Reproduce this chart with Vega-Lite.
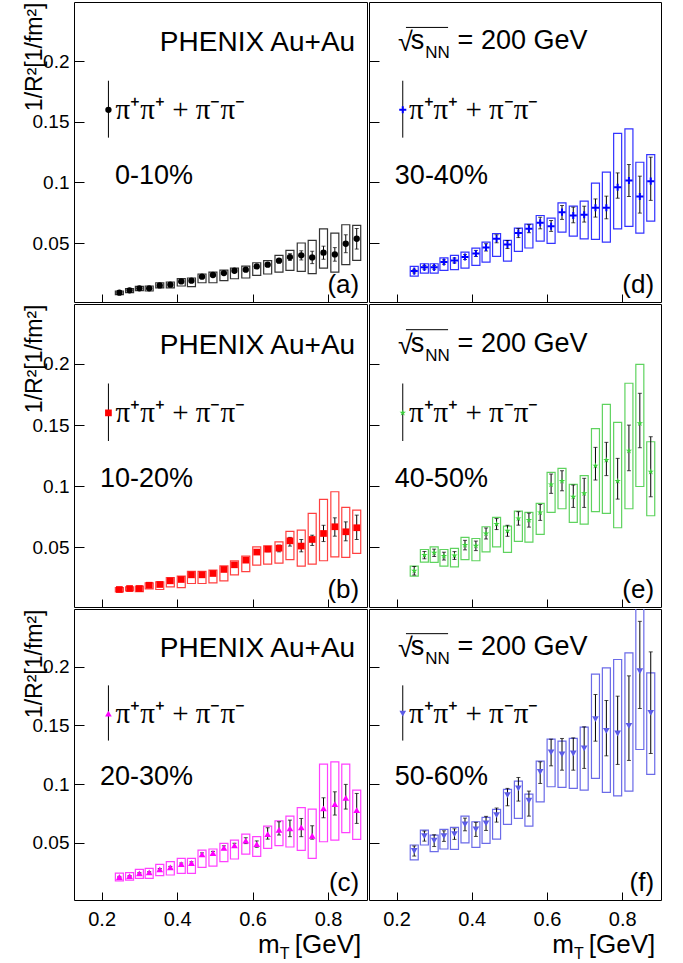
{
"$schema": "https://vega.github.io/schema/vega-lite/v6.json",
"background": "white",
"padding": {"left": 22, "top": 1, "right": 0, "bottom": 0},
"config": {
  "view": {"stroke": "black", "strokeWidth": 1},
  "axis": {"grid": false, "domain": false, "tickColor": "black", "tickWidth": 1, "labelColor": "black", "labelFont": "Liberation Sans", "labelFontSize": 19, "titleFont": "Liberation Sans", "titleColor": "black", "titleFontWeight": "normal", "labelFlush": false, "labelOverlap": false},
  "text": {"font": "Liberation Sans", "color": "black"}
},
"datasets": {
"a": [
{"x":0.247,"y":0.0090,"lo":0.0085,"hi":0.0095,"blo":0.0074,"bhi":0.0104},
{"x":0.274,"y":0.0109,"lo":0.0104,"hi":0.0114,"blo":0.0091,"bhi":0.0123},
{"x":0.300,"y":0.0126,"lo":0.0120,"hi":0.0132,"blo":0.0107,"bhi":0.0142},
{"x":0.326,"y":0.0126,"lo":0.0120,"hi":0.0132,"blo":0.0104,"bhi":0.0145},
{"x":0.354,"y":0.0150,"lo":0.0144,"hi":0.0156,"blo":0.0129,"bhi":0.0172},
{"x":0.382,"y":0.0156,"lo":0.0150,"hi":0.0162,"blo":0.0129,"bhi":0.0178},
{"x":0.411,"y":0.0183,"lo":0.0176,"hi":0.0190,"blo":0.0145,"bhi":0.0206},
{"x":0.438,"y":0.0189,"lo":0.0182,"hi":0.0196,"blo":0.0140,"bhi":0.0211},
{"x":0.466,"y":0.0222,"lo":0.0214,"hi":0.0230,"blo":0.0172,"bhi":0.0244},
{"x":0.495,"y":0.0236,"lo":0.0227,"hi":0.0245,"blo":0.0172,"bhi":0.0260},
{"x":0.524,"y":0.0252,"lo":0.0242,"hi":0.0262,"blo":0.0189,"bhi":0.0277},
{"x":0.552,"y":0.0271,"lo":0.0260,"hi":0.0282,"blo":0.0205,"bhi":0.0293},
{"x":0.582,"y":0.0280,"lo":0.0267,"hi":0.0293,"blo":0.0211,"bhi":0.0310},
{"x":0.611,"y":0.0307,"lo":0.0292,"hi":0.0322,"blo":0.0233,"bhi":0.0337},
{"x":0.640,"y":0.0321,"lo":0.0305,"hi":0.0337,"blo":0.0244,"bhi":0.0354},
{"x":0.670,"y":0.0354,"lo":0.0336,"hi":0.0372,"blo":0.0260,"bhi":0.0398},
{"x":0.699,"y":0.0384,"lo":0.0356,"hi":0.0412,"blo":0.0274,"bhi":0.0439},
{"x":0.729,"y":0.0398,"lo":0.0360,"hi":0.0436,"blo":0.0266,"bhi":0.0500},
{"x":0.758,"y":0.0381,"lo":0.0330,"hi":0.0432,"blo":0.0247,"bhi":0.0522},
{"x":0.788,"y":0.0420,"lo":0.0366,"hi":0.0474,"blo":0.0293,"bhi":0.0617},
{"x":0.818,"y":0.0406,"lo":0.0350,"hi":0.0462,"blo":0.0260,"bhi":0.0582},
{"x":0.847,"y":0.0494,"lo":0.0420,"hi":0.0568,"blo":0.0321,"bhi":0.0651},
{"x":0.876,"y":0.0535,"lo":0.0450,"hi":0.0620,"blo":0.0356,"bhi":0.0645}
],
"b": [
{"x":0.247,"y":0.0156,"lo":0.0152,"hi":0.0160,"blo":0.0136,"bhi":0.0172},
{"x":0.274,"y":0.0164,"lo":0.0160,"hi":0.0168,"blo":0.0145,"bhi":0.0177},
{"x":0.300,"y":0.0164,"lo":0.0160,"hi":0.0168,"blo":0.0139,"bhi":0.0183},
{"x":0.326,"y":0.0191,"lo":0.0186,"hi":0.0196,"blo":0.0161,"bhi":0.0211},
{"x":0.354,"y":0.0197,"lo":0.0192,"hi":0.0202,"blo":0.0156,"bhi":0.0219},
{"x":0.382,"y":0.0227,"lo":0.0221,"hi":0.0233,"blo":0.0177,"bhi":0.0254},
{"x":0.411,"y":0.0238,"lo":0.0232,"hi":0.0244,"blo":0.0172,"bhi":0.0265},
{"x":0.438,"y":0.0276,"lo":0.0269,"hi":0.0283,"blo":0.0205,"bhi":0.0305},
{"x":0.466,"y":0.0276,"lo":0.0268,"hi":0.0284,"blo":0.0205,"bhi":0.0305},
{"x":0.495,"y":0.0287,"lo":0.0279,"hi":0.0295,"blo":0.0211,"bhi":0.0314},
{"x":0.524,"y":0.0320,"lo":0.0310,"hi":0.0330,"blo":0.0227,"bhi":0.0350},
{"x":0.552,"y":0.0358,"lo":0.0347,"hi":0.0369,"blo":0.0275,"bhi":0.0391},
{"x":0.582,"y":0.0396,"lo":0.0383,"hi":0.0409,"blo":0.0303,"bhi":0.0429},
{"x":0.611,"y":0.0462,"lo":0.0445,"hi":0.0479,"blo":0.0355,"bhi":0.0505},
{"x":0.640,"y":0.0486,"lo":0.0465,"hi":0.0507,"blo":0.0363,"bhi":0.0513},
{"x":0.670,"y":0.0494,"lo":0.0464,"hi":0.0519,"blo":0.0371,"bhi":0.0546},
{"x":0.699,"y":0.0554,"lo":0.0511,"hi":0.0582,"blo":0.0401,"bhi":0.0631},
{"x":0.729,"y":0.0511,"lo":0.0464,"hi":0.0565,"blo":0.0347,"bhi":0.0642},
{"x":0.758,"y":0.0565,"lo":0.0516,"hi":0.0600,"blo":0.0363,"bhi":0.0778},
{"x":0.788,"y":0.0614,"lo":0.0548,"hi":0.0681,"blo":0.0391,"bhi":0.0893},
{"x":0.818,"y":0.0669,"lo":0.0592,"hi":0.0742,"blo":0.0423,"bhi":0.0955},
{"x":0.847,"y":0.0628,"lo":0.0554,"hi":0.0709,"blo":0.0418,"bhi":0.0827},
{"x":0.876,"y":0.0661,"lo":0.0565,"hi":0.0764,"blo":0.0451,"bhi":0.0805}
],
"c": [
{"x":0.247,"y":0.0209,"lo":0.0204,"hi":0.0214,"blo":0.0175,"bhi":0.0241},
{"x":0.274,"y":0.0217,"lo":0.0212,"hi":0.0222,"blo":0.0183,"bhi":0.0246},
{"x":0.300,"y":0.0240,"lo":0.0234,"hi":0.0246,"blo":0.0197,"bhi":0.0274},
{"x":0.326,"y":0.0248,"lo":0.0242,"hi":0.0254,"blo":0.0197,"bhi":0.0282},
{"x":0.354,"y":0.0274,"lo":0.0267,"hi":0.0281,"blo":0.0220,"bhi":0.0316},
{"x":0.382,"y":0.0291,"lo":0.0283,"hi":0.0299,"blo":0.0226,"bhi":0.0339},
{"x":0.411,"y":0.0319,"lo":0.0310,"hi":0.0328,"blo":0.0240,"bhi":0.0367},
{"x":0.438,"y":0.0328,"lo":0.0318,"hi":0.0338,"blo":0.0240,"bhi":0.0367},
{"x":0.466,"y":0.0401,"lo":0.0388,"hi":0.0414,"blo":0.0291,"bhi":0.0438},
{"x":0.495,"y":0.0413,"lo":0.0399,"hi":0.0427,"blo":0.0302,"bhi":0.0447},
{"x":0.524,"y":0.0458,"lo":0.0442,"hi":0.0474,"blo":0.0339,"bhi":0.0495},
{"x":0.552,"y":0.0478,"lo":0.0460,"hi":0.0496,"blo":0.0362,"bhi":0.0523},
{"x":0.582,"y":0.0518,"lo":0.0493,"hi":0.0543,"blo":0.0404,"bhi":0.0574},
{"x":0.611,"y":0.0489,"lo":0.0462,"hi":0.0516,"blo":0.0384,"bhi":0.0552},
{"x":0.640,"y":0.0574,"lo":0.0531,"hi":0.0628,"blo":0.0452,"bhi":0.0642},
{"x":0.670,"y":0.0611,"lo":0.0566,"hi":0.0679,"blo":0.0475,"bhi":0.0687},
{"x":0.699,"y":0.0622,"lo":0.0552,"hi":0.0693,"blo":0.0464,"bhi":0.0727},
{"x":0.729,"y":0.0631,"lo":0.0552,"hi":0.0707,"blo":0.0435,"bhi":0.0800},
{"x":0.758,"y":0.0560,"lo":0.0531,"hi":0.0645,"blo":0.0367,"bhi":0.0787},
{"x":0.788,"y":0.0793,"lo":0.0713,"hi":0.0883,"blo":0.0509,"bhi":0.1169},
{"x":0.818,"y":0.0829,"lo":0.0736,"hi":0.0934,"blo":0.0523,"bhi":0.1189},
{"x":0.847,"y":0.0883,"lo":0.0787,"hi":0.0997,"blo":0.0586,"bhi":0.1169},
{"x":0.876,"y":0.0778,"lo":0.0665,"hi":0.0920,"blo":0.0529,"bhi":0.0948}
],
"d": [
{"x":0.247,"y":0.0268,"lo":0.0253,"hi":0.0283,"blo":0.0227,"bhi":0.0307},
{"x":0.274,"y":0.0299,"lo":0.0284,"hi":0.0314,"blo":0.0252,"bhi":0.0329},
{"x":0.300,"y":0.0299,"lo":0.0284,"hi":0.0314,"blo":0.0252,"bhi":0.0329},
{"x":0.326,"y":0.0343,"lo":0.0325,"hi":0.0361,"blo":0.0274,"bhi":0.0378},
{"x":0.354,"y":0.0356,"lo":0.0336,"hi":0.0376,"blo":0.0280,"bhi":0.0398},
{"x":0.382,"y":0.0384,"lo":0.0364,"hi":0.0404,"blo":0.0293,"bhi":0.0425},
{"x":0.411,"y":0.0414,"lo":0.0389,"hi":0.0439,"blo":0.0315,"bhi":0.0458},
{"x":0.438,"y":0.0464,"lo":0.0434,"hi":0.0494,"blo":0.0343,"bhi":0.0508},
{"x":0.466,"y":0.0535,"lo":0.0502,"hi":0.0568,"blo":0.0389,"bhi":0.0577},
{"x":0.495,"y":0.0488,"lo":0.0455,"hi":0.0521,"blo":0.0351,"bhi":0.0521},
{"x":0.524,"y":0.0582,"lo":0.0545,"hi":0.0619,"blo":0.0431,"bhi":0.0623},
{"x":0.552,"y":0.0617,"lo":0.0585,"hi":0.0651,"blo":0.0459,"bhi":0.0656},
{"x":0.582,"y":0.0667,"lo":0.0617,"hi":0.0713,"blo":0.0516,"bhi":0.0727},
{"x":0.611,"y":0.0639,"lo":0.0596,"hi":0.0686,"blo":0.0497,"bhi":0.0705},
{"x":0.640,"y":0.0755,"lo":0.0695,"hi":0.0810,"blo":0.0590,"bhi":0.0832},
{"x":0.670,"y":0.0727,"lo":0.0667,"hi":0.0796,"blo":0.0557,"bhi":0.0804},
{"x":0.699,"y":0.0733,"lo":0.0673,"hi":0.0804,"blo":0.0535,"bhi":0.0846},
{"x":0.729,"y":0.0791,"lo":0.0714,"hi":0.0864,"blo":0.0530,"bhi":0.0994},
{"x":0.758,"y":0.0791,"lo":0.0700,"hi":0.0887,"blo":0.0508,"bhi":0.1085},
{"x":0.788,"y":0.0961,"lo":0.0870,"hi":0.1079,"blo":0.0617,"bhi":0.1406},
{"x":0.818,"y":0.1016,"lo":0.0884,"hi":0.1148,"blo":0.0637,"bhi":0.1442},
{"x":0.847,"y":0.0884,"lo":0.0747,"hi":0.1052,"blo":0.0582,"bhi":0.1167},
{"x":0.876,"y":0.1011,"lo":0.0852,"hi":0.1209,"blo":0.0681,"bhi":0.1230}
],
"e": [
{"x":0.247,"y":0.0309,"lo":0.0274,"hi":0.0344,"blo":0.0265,"bhi":0.0347},
{"x":0.274,"y":0.0437,"lo":0.0407,"hi":0.0467,"blo":0.0380,"bhi":0.0483},
{"x":0.300,"y":0.0456,"lo":0.0426,"hi":0.0486,"blo":0.0377,"bhi":0.0505},
{"x":0.326,"y":0.0429,"lo":0.0397,"hi":0.0461,"blo":0.0347,"bhi":0.0483},
{"x":0.354,"y":0.0434,"lo":0.0402,"hi":0.0466,"blo":0.0341,"bhi":0.0492},
{"x":0.382,"y":0.0519,"lo":0.0480,"hi":0.0558,"blo":0.0401,"bhi":0.0582},
{"x":0.411,"y":0.0513,"lo":0.0474,"hi":0.0552,"blo":0.0391,"bhi":0.0573},
{"x":0.438,"y":0.0614,"lo":0.0569,"hi":0.0659,"blo":0.0464,"bhi":0.0669},
{"x":0.466,"y":0.0691,"lo":0.0646,"hi":0.0736,"blo":0.0505,"bhi":0.0745},
{"x":0.495,"y":0.0636,"lo":0.0591,"hi":0.0681,"blo":0.0459,"bhi":0.0674},
{"x":0.524,"y":0.0737,"lo":0.0682,"hi":0.0792,"blo":0.0549,"bhi":0.0797},
{"x":0.552,"y":0.0723,"lo":0.0666,"hi":0.0780,"blo":0.0543,"bhi":0.0786},
{"x":0.582,"y":0.0786,"lo":0.0721,"hi":0.0851,"blo":0.0606,"bhi":0.0860},
{"x":0.611,"y":0.1015,"lo":0.0942,"hi":0.1100,"blo":0.0786,"bhi":0.1113},
{"x":0.640,"y":0.1043,"lo":0.0963,"hi":0.1127,"blo":0.0816,"bhi":0.1146},
{"x":0.670,"y":0.0914,"lo":0.0827,"hi":0.1010,"blo":0.0704,"bhi":0.1015},
{"x":0.699,"y":0.0942,"lo":0.0827,"hi":0.1065,"blo":0.0691,"bhi":0.1087},
{"x":0.729,"y":0.1168,"lo":0.1051,"hi":0.1318,"blo":0.0792,"bhi":0.1471},
{"x":0.758,"y":0.1214,"lo":0.1087,"hi":0.1359,"blo":0.0778,"bhi":0.1670},
{"x":0.788,"y":0.1043,"lo":0.0895,"hi":0.1228,"blo":0.0661,"bhi":0.1523},
{"x":0.818,"y":0.1291,"lo":0.1127,"hi":0.1500,"blo":0.0816,"bhi":0.1842},
{"x":0.847,"y":0.1514,"lo":0.1315,"hi":0.1760,"blo":0.0998,"bhi":0.1997},
{"x":0.876,"y":0.1119,"lo":0.0914,"hi":0.1405,"blo":0.0759,"bhi":0.1364}
],
"f": [
{"x":0.247,"y":0.0430,"lo":0.0387,"hi":0.0473,"blo":0.0354,"bhi":0.0481},
{"x":0.274,"y":0.0557,"lo":0.0514,"hi":0.0600,"blo":0.0481,"bhi":0.0608},
{"x":0.300,"y":0.0518,"lo":0.0468,"hi":0.0568,"blo":0.0424,"bhi":0.0566},
{"x":0.326,"y":0.0557,"lo":0.0512,"hi":0.0602,"blo":0.0447,"bhi":0.0614},
{"x":0.354,"y":0.0574,"lo":0.0529,"hi":0.0619,"blo":0.0444,"bhi":0.0631},
{"x":0.382,"y":0.0656,"lo":0.0602,"hi":0.0710,"blo":0.0500,"bhi":0.0727},
{"x":0.411,"y":0.0614,"lo":0.0554,"hi":0.0674,"blo":0.0461,"bhi":0.0679},
{"x":0.438,"y":0.0665,"lo":0.0605,"hi":0.0725,"blo":0.0495,"bhi":0.0716},
{"x":0.466,"y":0.0736,"lo":0.0676,"hi":0.0796,"blo":0.0532,"bhi":0.0784},
{"x":0.495,"y":0.0906,"lo":0.0815,"hi":0.0963,"blo":0.0656,"bhi":0.0954},
{"x":0.524,"y":0.0963,"lo":0.0855,"hi":0.1056,"blo":0.0707,"bhi":0.1025},
{"x":0.552,"y":0.0858,"lo":0.0727,"hi":0.0940,"blo":0.0642,"bhi":0.0914},
{"x":0.582,"y":0.1104,"lo":0.1005,"hi":0.1189,"blo":0.0849,"bhi":0.1195},
{"x":0.611,"y":0.1269,"lo":0.1155,"hi":0.1382,"blo":0.0977,"bhi":0.1382},
{"x":0.640,"y":0.1252,"lo":0.1118,"hi":0.1388,"blo":0.0971,"bhi":0.1365},
{"x":0.670,"y":0.1260,"lo":0.1118,"hi":0.1393,"blo":0.0963,"bhi":0.1388},
{"x":0.699,"y":0.1303,"lo":0.1133,"hi":0.1487,"blo":0.0948,"bhi":0.1484},
{"x":0.729,"y":0.1552,"lo":0.1365,"hi":0.1762,"blo":0.1048,"bhi":0.1935},
{"x":0.758,"y":0.1453,"lo":0.1240,"hi":0.1711,"blo":0.0929,"bhi":0.1989},
{"x":0.788,"y":0.1430,"lo":0.1167,"hi":0.1748,"blo":0.0900,"bhi":0.2060},
{"x":0.818,"y":0.1495,"lo":0.1201,"hi":0.1921,"blo":0.0940,"bhi":0.2116},
{"x":0.847,"y":0.1960,"lo":0.1643,"hi":0.2385,"blo":0.1294,"bhi":0.2600},
{"x":0.876,"y":0.1606,"lo":0.1260,"hi":0.2125,"blo":0.1082,"bhi":0.1946}
]
},
"spacing": 0,
"vconcat": [
{"hconcat": [
 {"width": 293, "height": 300, "layer": [
  {"data": {"name": "a"}, "mark": {"type": "bar", "filled": false, "width": 8, "color": "#333333", "strokeWidth": 1.2, "clip": true},
   "encoding": {"x": {"field": "x", "type": "quantitative", "scale": {"domain": [0.14, 0.89], "nice": false, "zero": false}, "axis": {"values": [0.2, 0.4, 0.6, 0.8], "labels": false, "tickSize": -8, "title": null}},
     "y": {"field": "blo", "type": "quantitative", "scale": {"domain": [0.0013, 0.249], "nice": false, "zero": false}, "axis": {"values": [0.05, 0.1, 0.15, 0.2], "format": "~g", "tickSize": -10, "labelPadding": 15, "title": "1/R²[1/fm²]", "titleAnchor": "end", "titleFontSize": 23, "titlePadding": -14}},
     "y2": {"field": "bhi"}}},
  {"data": {"name": "a"}, "mark": {"type": "errorbar", "color": "black", "thickness": 1, "ticks": {"size": 4}},
   "encoding": {"x": {"field": "x", "type": "quantitative", "title": null}, "y": {"field": "lo", "type": "quantitative", "title": "1/R²[1/fm²]"}, "y2": {"field": "hi"}}},
  {"data": {"name": "a"}, "mark": {"type": "point", "shape": "circle", "filled": true, "size": 40, "color": "black", "opacity": 1, "clip": true},
   "encoding": {"x": {"field": "x", "type": "quantitative"}, "y": {"field": "y", "type": "quantitative"}}},
  {"data": {"values": [{}]}, "mark": {"type": "text", "text": "PHENIX Au+Au", "align": "right", "baseline": "alphabetic", "fontSize": 28},
   "encoding": {"x": {"datum": 0.872}, "y": {"datum": 0.2085}}},
  {"data": {"values": [{}]}, "mark": {"type": "rule", "color": "black", "strokeWidth": 1},
   "encoding": {"x": {"datum": 0.218}, "y": {"datum": 0.137}, "y2": {"datum": 0.184}}},
  {"data": {"values": [{}]}, "mark": {"type": "point", "shape": "circle", "filled": true, "size": 40, "color": "black", "opacity": 1},
   "encoding": {"x": {"datum": 0.218}, "y": {"datum": 0.16}}},
  {"data": {"values": [{}]}, "mark": {"type": "text", "text": "π⁺π⁺ + π⁻π⁻", "align": "left", "baseline": "middle", "fontSize": 29, "font": "Liberation Serif"},
   "encoding": {"x": {"datum": 0.237}, "y": {"datum": 0.16}}},
  {"data": {"values": [{}]}, "mark": {"type": "text", "text": "0-10%", "align": "right", "baseline": "alphabetic", "fontSize": 27},
   "encoding": {"x": {"datum": 0.442}, "y": {"datum": 0.099}}},
  {"data": {"values": [{}]}, "mark": {"type": "text", "text": "(a)", "align": "right", "baseline": "alphabetic", "fontSize": 26},
   "encoding": {"x": {"datum": 0.8826}, "y": {"datum": 0.009}}}
 ]},
 {"width": 292, "height": 300, "layer": [
  {"data": {"name": "d"}, "mark": {"type": "bar", "filled": false, "width": 8, "color": "#3333ff", "strokeWidth": 1.2, "clip": true},
   "encoding": {"x": {"field": "x", "type": "quantitative", "scale": {"domain": [0.14, 0.89], "nice": false, "zero": false}, "axis": {"values": [0.2, 0.4, 0.6, 0.8], "labels": false, "tickSize": -8, "title": null}},
     "y": {"field": "blo", "type": "quantitative", "scale": {"domain": [0.0013, 0.249], "nice": false, "zero": false}, "axis": {"values": [0.05, 0.1, 0.15, 0.2], "labels": false, "tickSize": -10, "title": null}},
     "y2": {"field": "bhi"}}},
  {"data": {"name": "d"}, "mark": {"type": "errorbar", "color": "black", "thickness": 1, "ticks": {"size": 4}},
   "encoding": {"x": {"field": "x", "type": "quantitative", "title": null}, "y": {"field": "lo", "type": "quantitative", "title": null}, "y2": {"field": "hi"}}},
  {"data": {"name": "d"}, "mark": {"type": "point", "shape": "M-1,0H1M0,-1V1", "filled": false, "size": 50, "strokeWidth": 2, "color": "#0000ff", "opacity": 1, "clip": true},
   "encoding": {"x": {"field": "x", "type": "quantitative"}, "y": {"field": "y", "type": "quantitative"}}},
  {"data": {"values": [{}]}, "mark": {"type": "text", "text": "√", "align": "left", "baseline": "alphabetic", "fontSize": 27},
   "encoding": {"x": {"datum": 0.2036}, "y": {"datum": 0.2085}}},
  {"data": {"values": [{}]}, "mark": {"type": "rule", "color": "black", "strokeWidth": 1},
   "encoding": {"x": {"datum": 0.225}, "x2": {"datum": 0.337}, "y": {"datum": 0.228}}},
  {"data": {"values": [{}]}, "mark": {"type": "text", "text": "s", "align": "left", "baseline": "alphabetic", "fontSize": 27},
   "encoding": {"x": {"datum": 0.2376}, "y": {"datum": 0.2101}}},
  {"data": {"values": [{}]}, "mark": {"type": "text", "text": "NN", "align": "left", "baseline": "alphabetic", "fontSize": 17},
   "encoding": {"x": {"datum": 0.2763}, "y": {"datum": 0.2025}}},
  {"data": {"values": [{}]}, "mark": {"type": "text", "text": "= 200 GeV", "align": "left", "baseline": "alphabetic", "fontSize": 27},
   "encoding": {"x": {"datum": 0.3624}, "y": {"datum": 0.2101}}},
  {"data": {"values": [{}]}, "mark": {"type": "rule", "color": "black", "strokeWidth": 1},
   "encoding": {"x": {"datum": 0.2165}, "y": {"datum": 0.137}, "y2": {"datum": 0.184}}},
  {"data": {"values": [{}]}, "mark": {"type": "point", "shape": "M-1,0H1M0,-1V1", "filled": false, "size": 50, "strokeWidth": 2, "color": "#0000ff", "opacity": 1},
   "encoding": {"x": {"datum": 0.2165}, "y": {"datum": 0.16}}},
  {"data": {"values": [{}]}, "mark": {"type": "text", "text": "π⁺π⁺ + π⁻π⁻", "align": "left", "baseline": "middle", "fontSize": 29, "font": "Liberation Serif"},
   "encoding": {"x": {"datum": 0.233}, "y": {"datum": 0.16}}},
  {"data": {"values": [{}]}, "mark": {"type": "text", "text": "30-40%", "align": "right", "baseline": "alphabetic", "fontSize": 27},
   "encoding": {"x": {"datum": 0.443}, "y": {"datum": 0.099}}},
  {"data": {"values": [{}]}, "mark": {"type": "text", "text": "(d)", "align": "right", "baseline": "alphabetic", "fontSize": 26},
   "encoding": {"x": {"datum": 0.885}, "y": {"datum": 0.009}}}
 ]}
], "spacing": 0},
{"hconcat": [
 {"width": 293, "height": 303, "layer": [
  {"data": {"name": "b"}, "mark": {"type": "bar", "filled": false, "width": 8, "color": "#ff4040", "strokeWidth": 1.2, "clip": true},
   "encoding": {"x": {"field": "x", "type": "quantitative", "scale": {"domain": [0.14, 0.89], "nice": false, "zero": false}, "axis": {"values": [0.2, 0.4, 0.6, 0.8], "labels": false, "tickSize": -8, "title": null}},
     "y": {"field": "blo", "type": "quantitative", "scale": {"domain": [0.0013, 0.249], "nice": false, "zero": false}, "axis": {"values": [0.05, 0.1, 0.15, 0.2], "format": "~g", "tickSize": -10, "labelPadding": 15, "title": "1/R²[1/fm²]", "titleAnchor": "end", "titleFontSize": 23, "titlePadding": -14}},
     "y2": {"field": "bhi"}}},
  {"data": {"name": "b"}, "mark": {"type": "errorbar", "color": "black", "thickness": 1, "ticks": {"size": 4}},
   "encoding": {"x": {"field": "x", "type": "quantitative", "title": null}, "y": {"field": "lo", "type": "quantitative", "title": "1/R²[1/fm²]"}, "y2": {"field": "hi"}}},
  {"data": {"name": "b"}, "mark": {"type": "point", "shape": "square", "filled": true, "size": 45, "color": "#ff0000", "opacity": 1, "clip": true},
   "encoding": {"x": {"field": "x", "type": "quantitative"}, "y": {"field": "y", "type": "quantitative"}}},
  {"data": {"values": [{}]}, "mark": {"type": "text", "text": "PHENIX Au+Au", "align": "right", "baseline": "alphabetic", "fontSize": 28},
   "encoding": {"x": {"datum": 0.872}, "y": {"datum": 0.2085}}},
  {"data": {"values": [{}]}, "mark": {"type": "rule", "color": "black", "strokeWidth": 1},
   "encoding": {"x": {"datum": 0.218}, "y": {"datum": 0.137}, "y2": {"datum": 0.184}}},
  {"data": {"values": [{}]}, "mark": {"type": "point", "shape": "square", "filled": true, "size": 45, "color": "#ff0000", "opacity": 1},
   "encoding": {"x": {"datum": 0.218}, "y": {"datum": 0.16}}},
  {"data": {"values": [{}]}, "mark": {"type": "text", "text": "π⁺π⁺ + π⁻π⁻", "align": "left", "baseline": "middle", "fontSize": 29, "font": "Liberation Serif"},
   "encoding": {"x": {"datum": 0.237}, "y": {"datum": 0.16}}},
  {"data": {"values": [{}]}, "mark": {"type": "text", "text": "10-20%", "align": "right", "baseline": "alphabetic", "fontSize": 27},
   "encoding": {"x": {"datum": 0.442}, "y": {"datum": 0.099}}},
  {"data": {"values": [{}]}, "mark": {"type": "text", "text": "(b)", "align": "right", "baseline": "alphabetic", "fontSize": 26},
   "encoding": {"x": {"datum": 0.8826}, "y": {"datum": 0.009}}}
 ]},
 {"width": 292, "height": 303, "layer": [
  {"data": {"name": "e"}, "mark": {"type": "bar", "filled": false, "width": 8, "color": "#5fd35f", "strokeWidth": 1.2, "clip": true},
   "encoding": {"x": {"field": "x", "type": "quantitative", "scale": {"domain": [0.14, 0.89], "nice": false, "zero": false}, "axis": {"values": [0.2, 0.4, 0.6, 0.8], "labels": false, "tickSize": -8, "title": null}},
     "y": {"field": "blo", "type": "quantitative", "scale": {"domain": [0.0013, 0.249], "nice": false, "zero": false}, "axis": {"values": [0.05, 0.1, 0.15, 0.2], "labels": false, "tickSize": -10, "title": null}},
     "y2": {"field": "bhi"}}},
  {"data": {"name": "e"}, "mark": {"type": "errorbar", "color": "black", "thickness": 1, "ticks": {"size": 4}},
   "encoding": {"x": {"field": "x", "type": "quantitative", "title": null}, "y": {"field": "lo", "type": "quantitative", "title": null}, "y2": {"field": "hi"}}},
  {"data": {"name": "e"}, "mark": {"type": "point", "shape": "M0,-1L0.2245,-0.309L0.9511,-0.309L0.3633,0.118L0.5878,0.809L0,0.382L-0.5878,0.809L-0.3633,0.118L-0.9511,-0.309L-0.2245,-0.309Z", "filled": true, "size": 45, "color": "#3ccf3c", "opacity": 1, "clip": true},
   "encoding": {"x": {"field": "x", "type": "quantitative"}, "y": {"field": "y", "type": "quantitative"}}},
  {"data": {"values": [{}]}, "mark": {"type": "text", "text": "√", "align": "left", "baseline": "alphabetic", "fontSize": 27},
   "encoding": {"x": {"datum": 0.2036}, "y": {"datum": 0.2085}}},
  {"data": {"values": [{}]}, "mark": {"type": "rule", "color": "black", "strokeWidth": 1},
   "encoding": {"x": {"datum": 0.225}, "x2": {"datum": 0.337}, "y": {"datum": 0.228}}},
  {"data": {"values": [{}]}, "mark": {"type": "text", "text": "s", "align": "left", "baseline": "alphabetic", "fontSize": 27},
   "encoding": {"x": {"datum": 0.2376}, "y": {"datum": 0.2101}}},
  {"data": {"values": [{}]}, "mark": {"type": "text", "text": "NN", "align": "left", "baseline": "alphabetic", "fontSize": 17},
   "encoding": {"x": {"datum": 0.2763}, "y": {"datum": 0.2025}}},
  {"data": {"values": [{}]}, "mark": {"type": "text", "text": "= 200 GeV", "align": "left", "baseline": "alphabetic", "fontSize": 27},
   "encoding": {"x": {"datum": 0.3624}, "y": {"datum": 0.2101}}},
  {"data": {"values": [{}]}, "mark": {"type": "rule", "color": "black", "strokeWidth": 1},
   "encoding": {"x": {"datum": 0.2165}, "y": {"datum": 0.137}, "y2": {"datum": 0.184}}},
  {"data": {"values": [{}]}, "mark": {"type": "point", "shape": "M0,-1L0.2245,-0.309L0.9511,-0.309L0.3633,0.118L0.5878,0.809L0,0.382L-0.5878,0.809L-0.3633,0.118L-0.9511,-0.309L-0.2245,-0.309Z", "filled": true, "size": 45, "color": "#3ccf3c", "opacity": 1},
   "encoding": {"x": {"datum": 0.2165}, "y": {"datum": 0.16}}},
  {"data": {"values": [{}]}, "mark": {"type": "text", "text": "π⁺π⁺ + π⁻π⁻", "align": "left", "baseline": "middle", "fontSize": 29, "font": "Liberation Serif"},
   "encoding": {"x": {"datum": 0.233}, "y": {"datum": 0.16}}},
  {"data": {"values": [{}]}, "mark": {"type": "text", "text": "40-50%", "align": "right", "baseline": "alphabetic", "fontSize": 27},
   "encoding": {"x": {"datum": 0.443}, "y": {"datum": 0.099}}},
  {"data": {"values": [{}]}, "mark": {"type": "text", "text": "(e)", "align": "right", "baseline": "alphabetic", "fontSize": 26},
   "encoding": {"x": {"datum": 0.885}, "y": {"datum": 0.009}}}
 ]}
], "spacing": 0},
{"hconcat": [
 {"width": 293, "height": 291, "layer": [
  {"data": {"name": "c"}, "mark": {"type": "bar", "filled": false, "width": 8, "color": "#ff40ff", "strokeWidth": 1.2, "clip": true},
   "encoding": {"x": {"field": "x", "type": "quantitative", "scale": {"domain": [0.14, 0.89], "nice": false, "zero": false}, "axis": {"values": [0.2, 0.4, 0.6, 0.8], "format": "~g", "tickSize": -8, "labelPadding": 17, "labelFontSize": 20, "title": null}},
     "y": {"field": "blo", "type": "quantitative", "scale": {"domain": [0.0013, 0.249], "nice": false, "zero": false}, "axis": {"values": [0.05, 0.1, 0.15, 0.2], "format": "~g", "tickSize": -10, "labelPadding": 15, "title": "1/R²[1/fm²]", "titleAnchor": "end", "titleFontSize": 23, "titlePadding": -14}},
     "y2": {"field": "bhi"}}},
  {"data": {"name": "c"}, "mark": {"type": "errorbar", "color": "black", "thickness": 1, "ticks": {"size": 4}},
   "encoding": {"x": {"field": "x", "type": "quantitative", "title": null}, "y": {"field": "lo", "type": "quantitative", "title": "1/R²[1/fm²]"}, "y2": {"field": "hi"}}},
  {"data": {"name": "c"}, "mark": {"type": "point", "shape": "triangle-up", "filled": true, "size": 45, "color": "#ff00ff", "opacity": 1, "clip": true},
   "encoding": {"x": {"field": "x", "type": "quantitative"}, "y": {"field": "y", "type": "quantitative"}}},
  {"data": {"values": [{}]}, "mark": {"type": "text", "text": "PHENIX Au+Au", "align": "right", "baseline": "alphabetic", "fontSize": 28},
   "encoding": {"x": {"datum": 0.872}, "y": {"datum": 0.2085}}},
  {"data": {"values": [{}]}, "mark": {"type": "rule", "color": "black", "strokeWidth": 1},
   "encoding": {"x": {"datum": 0.218}, "y": {"datum": 0.137}, "y2": {"datum": 0.184}}},
  {"data": {"values": [{}]}, "mark": {"type": "point", "shape": "triangle-up", "filled": true, "size": 45, "color": "#ff00ff", "opacity": 1},
   "encoding": {"x": {"datum": 0.218}, "y": {"datum": 0.16}}},
  {"data": {"values": [{}]}, "mark": {"type": "text", "text": "π⁺π⁺ + π⁻π⁻", "align": "left", "baseline": "middle", "fontSize": 29, "font": "Liberation Serif"},
   "encoding": {"x": {"datum": 0.237}, "y": {"datum": 0.16}}},
  {"data": {"values": [{}]}, "mark": {"type": "text", "text": "20-30%", "align": "right", "baseline": "alphabetic", "fontSize": 27},
   "encoding": {"x": {"datum": 0.442}, "y": {"datum": 0.099}}},
  {"data": {"values": [{}]}, "mark": {"type": "text", "text": "(c)", "align": "right", "baseline": "alphabetic", "fontSize": 26},
   "encoding": {"x": {"datum": 0.8826}, "y": {"datum": 0.009}}},
  {"data": {"values": [{}]}, "mark": {"type": "text", "text": "m", "align": "right", "baseline": "alphabetic", "fontSize": 26},
   "encoding": {"x": {"datum": 0.672}, "y": {"datum": -0.044}}},
  {"data": {"values": [{}]}, "mark": {"type": "text", "text": "T", "align": "left", "baseline": "alphabetic", "fontSize": 16},
   "encoding": {"x": {"datum": 0.672}, "y": {"datum": -0.049}}},
  {"data": {"values": [{}]}, "mark": {"type": "text", "text": "[GeV]", "align": "right", "baseline": "alphabetic", "fontSize": 26},
   "encoding": {"x": {"datum": 0.888}, "y": {"datum": -0.044}}}
 ]},
 {"width": 292, "height": 291, "layer": [
  {"data": {"name": "f"}, "mark": {"type": "bar", "filled": false, "width": 8, "color": "#6b6be8", "strokeWidth": 1.2, "clip": true},
   "encoding": {"x": {"field": "x", "type": "quantitative", "scale": {"domain": [0.14, 0.89], "nice": false, "zero": false}, "axis": {"values": [0.2, 0.4, 0.6, 0.8], "format": "~g", "tickSize": -8, "labelPadding": 17, "labelFontSize": 20, "title": null}},
     "y": {"field": "blo", "type": "quantitative", "scale": {"domain": [0.0013, 0.249], "nice": false, "zero": false}, "axis": {"values": [0.05, 0.1, 0.15, 0.2], "labels": false, "tickSize": -10, "title": null}},
     "y2": {"field": "bhi"}}},
  {"data": {"name": "f"}, "mark": {"type": "errorbar", "color": "black", "thickness": 1, "ticks": {"size": 4}},
   "encoding": {"x": {"field": "x", "type": "quantitative", "title": null}, "y": {"field": "lo", "type": "quantitative", "title": null}, "y2": {"field": "hi"}}},
  {"data": {"name": "f"}, "mark": {"type": "point", "shape": "triangle-down", "filled": true, "size": 45, "color": "#5b5be6", "opacity": 1, "clip": true},
   "encoding": {"x": {"field": "x", "type": "quantitative"}, "y": {"field": "y", "type": "quantitative"}}},
  {"data": {"values": [{}]}, "mark": {"type": "text", "text": "√", "align": "left", "baseline": "alphabetic", "fontSize": 27},
   "encoding": {"x": {"datum": 0.2036}, "y": {"datum": 0.2085}}},
  {"data": {"values": [{}]}, "mark": {"type": "rule", "color": "black", "strokeWidth": 1},
   "encoding": {"x": {"datum": 0.225}, "x2": {"datum": 0.337}, "y": {"datum": 0.228}}},
  {"data": {"values": [{}]}, "mark": {"type": "text", "text": "s", "align": "left", "baseline": "alphabetic", "fontSize": 27},
   "encoding": {"x": {"datum": 0.2376}, "y": {"datum": 0.2101}}},
  {"data": {"values": [{}]}, "mark": {"type": "text", "text": "NN", "align": "left", "baseline": "alphabetic", "fontSize": 17},
   "encoding": {"x": {"datum": 0.2763}, "y": {"datum": 0.2025}}},
  {"data": {"values": [{}]}, "mark": {"type": "text", "text": "= 200 GeV", "align": "left", "baseline": "alphabetic", "fontSize": 27},
   "encoding": {"x": {"datum": 0.3624}, "y": {"datum": 0.2101}}},
  {"data": {"values": [{}]}, "mark": {"type": "rule", "color": "black", "strokeWidth": 1},
   "encoding": {"x": {"datum": 0.2165}, "y": {"datum": 0.137}, "y2": {"datum": 0.184}}},
  {"data": {"values": [{}]}, "mark": {"type": "point", "shape": "triangle-down", "filled": true, "size": 45, "color": "#5b5be6", "opacity": 1},
   "encoding": {"x": {"datum": 0.2165}, "y": {"datum": 0.16}}},
  {"data": {"values": [{}]}, "mark": {"type": "text", "text": "π⁺π⁺ + π⁻π⁻", "align": "left", "baseline": "middle", "fontSize": 29, "font": "Liberation Serif"},
   "encoding": {"x": {"datum": 0.233}, "y": {"datum": 0.16}}},
  {"data": {"values": [{}]}, "mark": {"type": "text", "text": "50-60%", "align": "right", "baseline": "alphabetic", "fontSize": 27},
   "encoding": {"x": {"datum": 0.443}, "y": {"datum": 0.099}}},
  {"data": {"values": [{}]}, "mark": {"type": "text", "text": "(f)", "align": "right", "baseline": "alphabetic", "fontSize": 26},
   "encoding": {"x": {"datum": 0.885}, "y": {"datum": 0.009}}},
  {"data": {"values": [{}]}, "mark": {"type": "text", "text": "m", "align": "right", "baseline": "alphabetic", "fontSize": 26},
   "encoding": {"x": {"datum": 0.672}, "y": {"datum": -0.044}}},
  {"data": {"values": [{}]}, "mark": {"type": "text", "text": "T", "align": "left", "baseline": "alphabetic", "fontSize": 16},
   "encoding": {"x": {"datum": 0.672}, "y": {"datum": -0.049}}},
  {"data": {"values": [{}]}, "mark": {"type": "text", "text": "[GeV]", "align": "right", "baseline": "alphabetic", "fontSize": 26},
   "encoding": {"x": {"datum": 0.888}, "y": {"datum": -0.044}}}
 ]}
], "spacing": 0}
]
}
